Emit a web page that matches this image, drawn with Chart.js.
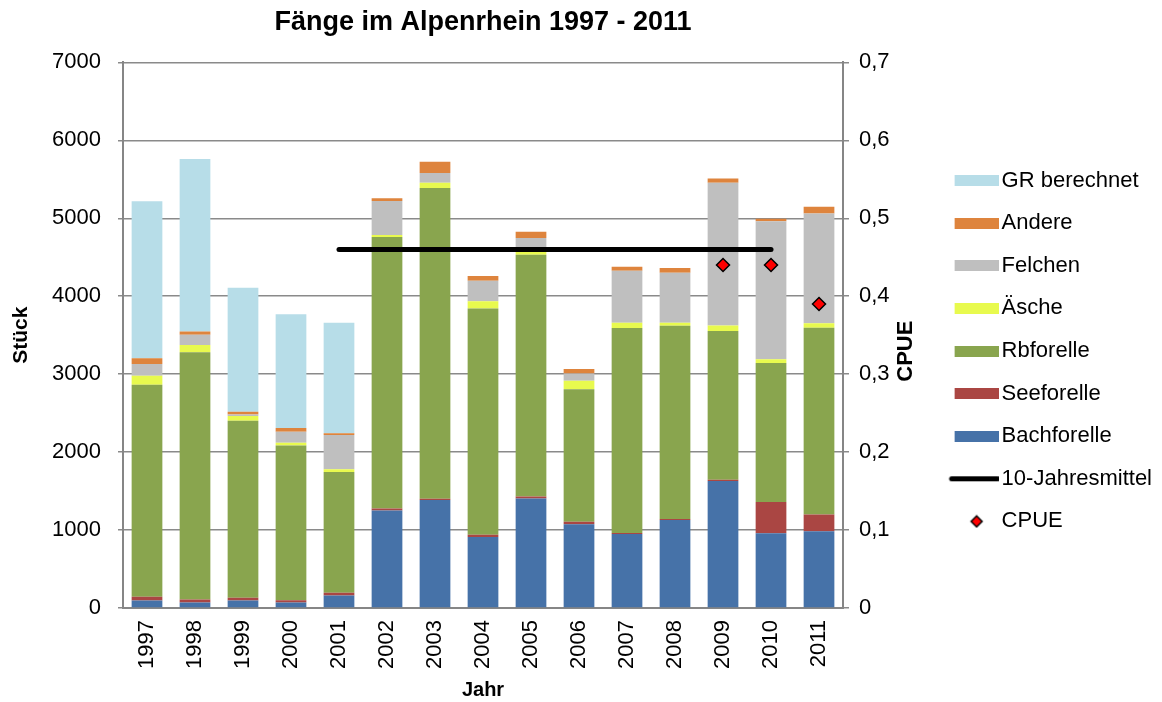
<!DOCTYPE html>
<html><head><meta charset="utf-8">
<script src="https://cdn.jsdelivr.net/npm/chart.js@4/dist/chart.umd.min.js"></script>
<style>html,body{margin:0;padding:0;background:#fff}</style>
</head><body>
<canvas id="c" width="1162" height="702"></canvas>
<script>
const chartTitle = 'Fänge im Alpenrhein 1997 - 2011';
const leftTitle = 'Stück';
const rightTitle = 'CPUE';
const xTitle = 'Jahr';
const years = ['1997','1998','1999','2000','2001','2002','2003','2004','2005','2006','2007','2008','2009','2010','2011'];
const bachforelle = [95, 70, 95, 70, 160, 1250, 1385, 910, 1405, 1075, 950, 1130, 1630, 960, 985];
const seeforelle  = [50, 40, 38, 30, 35, 28, 17, 30, 26, 30, 13, 13, 17, 400, 215];
const rbforelle   = [2720, 3170, 2270, 1985, 1550, 3483, 3987, 2902, 3102, 1700, 2628, 2479, 1906, 1782, 2397];
const aesche      = [115, 95, 60, 35, 35, 25, 68, 94, 52, 110, 68, 38, 73, 51, 56];
const felchen     = [150, 130, 21, 141, 440, 436, 124, 261, 162, 95, 667, 641, 1829, 1770, 1410];
const andere      = [75, 43, 34, 47, 22, 34, 145, 64, 81, 55, 51, 60, 56, 30, 85];
const grBerechnet = [2015, 2213, 1590, 1461, 1418, null, null, null, null, null, null, null, null, null, null];
const jahresmittel = [null, null, null, null, 0.46, 0.46, 0.46, 0.46, 0.46, 0.46, 0.46, 0.46, 0.46, 0.46, null];
const cpue = [null, null, null, null, null, null, null, null, null, null, null, null, 0.44, 0.44, 0.39];
const leftTicks = [0, 1000, 2000, 3000, 4000, 5000, 6000, 7000];
const rightTicks = ['0', '0,1', '0,2', '0,3', '0,4', '0,5', '0,6', '0,7'];

const FONT = '"Liberation Sans", Arial, sans-serif';
const colors = {
  bach: '#4672A8', see: '#AA4643', rb: '#89A54E', aesche: '#E8FA4E',
  felchen: '#BFBFBF', andere: '#DE843D', gr: '#B7DDE8'
};

// legend marker images (60px wide, marker shifted right to sit next to the text)
function rectImg(color){const c=document.createElement('canvas');c.width=60;c.height=11;const x=c.getContext('2d');x.fillStyle=color;x.fillRect(16,0,44,11);return c;}
function lineImg(){const c=document.createElement('canvas');c.width=60;c.height=7;const x=c.getContext('2d');x.strokeStyle='#000';x.lineWidth=5;x.lineCap='round';x.beginPath();x.moveTo(13,3.5);x.lineTo(59,3.5);x.stroke();return c;}
function diamondImg(){const c=document.createElement('canvas');c.width=60;c.height=14;const x=c.getContext('2d');x.fillStyle='#FF0000';x.strokeStyle='#000';x.lineWidth=1.5;x.beginPath();const cx=38;x.moveTo(cx,1.5);x.lineTo(cx+5.5,7);x.lineTo(cx,12.5);x.lineTo(cx-5.5,7);x.closePath();x.fill();x.stroke();return c;}

function bar(label, data, color){
  return {type:'bar', label, data, backgroundColor: color, borderWidth: 0, stack: 's', order: 2,
    categoryPercentage: 1, barPercentage: 0.64, yAxisID: 'y'};
}
const datasets = [
  bar('Bachforelle', bachforelle, colors.bach),
  bar('Seeforelle', seeforelle, colors.see),
  bar('Rbforelle', rbforelle, colors.rb),
  bar('Äsche', aesche, colors.aesche),
  bar('Felchen', felchen, colors.felchen),
  bar('Andere', andere, colors.andere),
  bar('GR berechnet', grBerechnet, colors.gr),
  {type:'line', label:'10-Jahresmittel', data: jahresmittel, yAxisID:'y1', borderColor:'#000', borderWidth:5,
   borderCapStyle:'round', pointRadius:0, pointHoverRadius:0, fill:false, order:1, spanGaps:false},
  {type:'line', label:'CPUE', data: cpue, yAxisID:'y1', showLine:false, pointStyle:'rectRot', pointRadius:6.5,
   pointBackgroundColor:'#FF0000', pointBorderColor:'#000', pointBorderWidth:1.5, order:0}
];
const legendImgs = [rectImg(colors.bach), rectImg(colors.see), rectImg(colors.rb), rectImg(colors.aesche),
  rectImg(colors.felchen), rectImg(colors.andere), rectImg(colors.gr), lineImg(), diamondImg()];
const legendOrder = [6,5,4,3,2,1,0,7,8];

const rightTitlePlugin = {
  id: 'rightTitle',
  afterDraw(chart){
    const s = chart.scales.y1; const ctx = chart.ctx;
    ctx.save();
    ctx.font = 'bold 22px ' + FONT; ctx.fillStyle = '#000';
    ctx.textAlign = 'center'; ctx.textBaseline = 'middle';
    ctx.translate(s.right - 20, (chart.chartArea.top + chart.chartArea.bottom) / 2 + 16);
    ctx.rotate(-Math.PI / 2);
    ctx.fillText(rightTitle, 0, 0);
    ctx.restore();
  }
};

new Chart(document.getElementById('c'), {
  data: { labels: years, datasets },
  plugins: [rightTitlePlugin],
  options: {
    responsive: false, animation: false, devicePixelRatio: 1,
    layout: { padding: { left: 0, right: 0, top: 0, bottom: 0 } },
    plugins: {
      tooltip: { enabled: false },
      title: { display: true, text: chartTitle, fullSize: false, color: '#000',
        font: { family: FONT, size: 27, weight: 'bold' }, padding: { top: 6, bottom: 24 } },
      legend: {
        position: 'right', align: 'center', maxWidth: 260,
        labels: {
          font: { family: FONT, size: 22 }, color: '#000', padding: 20.6,
          boxWidth: 44, boxHeight: 11, usePointStyle: true, pointStyleWidth: 44,
          generateLabels(chart){
            const ds = chart.data.datasets;
            return legendOrder.map(i => ({ text: ds[i].label, datasetIndex: i, pointStyle: legendImgs[i],
              fillStyle: 'rgba(0,0,0,0)', strokeStyle: 'rgba(0,0,0,0)', lineWidth: 0,
              hidden: !chart.isDatasetVisible(i), fontColor: '#000' }));
          }
        }
      }
    },
    scales: {
      x: {
        stacked: true,
        grid: { display: false, drawTicks: false },
        border: { display: true, color: '#868686', width: 2 },
        ticks: { autoSkip: false, minRotation: 90, maxRotation: 90, padding: 12, color: '#000',
          font: { family: FONT, size: 22 } },
        title: { display: true, text: xTitle, color: '#000', font: { family: FONT, size: 20, weight: 'bold' },
          padding: { top: 0, bottom: 0 } },
        afterFit(s){ s.height = 94; }
      },
      y: {
        stacked: true, min: 0, max: 7000, position: 'left',
        afterBuildTicks(s){ s.ticks = leftTicks.map(v => ({ value: v })); },
        ticks: { color: '#000', padding: 17, font: { family: FONT, size: 22 }, callback: v => String(v) },
        grid: { color: '#8A8A8A', lineWidth: 1.5, tickLength: 5, drawTicks: true },
        border: { display: true, color: '#868686', width: 2 },
        title: { display: true, text: leftTitle, color: '#000', font: { family: FONT, size: 21, weight: 'bold' },
          padding: { top: 9, bottom: 0 } },
        afterFit(s){ s.width = 123; }
      },
      y1: {
        min: 0, max: 0.7, position: 'right',
        afterBuildTicks(s){ s.ticks = rightTicks.map((t, i) => ({ value: i / 10 })); },
        ticks: { color: '#000', padding: 10, font: { family: FONT, size: 22 },
          callback: (v, i) => rightTicks[i] },
        grid: { drawOnChartArea: false, color: '#8A8A8A', lineWidth: 1.5, tickLength: 6, drawTicks: true },
        border: { display: true, color: '#868686', width: 2 },
        afterFit(s){ s.width = 83; }
      }
    }
  }
});
</script>
</body></html>
